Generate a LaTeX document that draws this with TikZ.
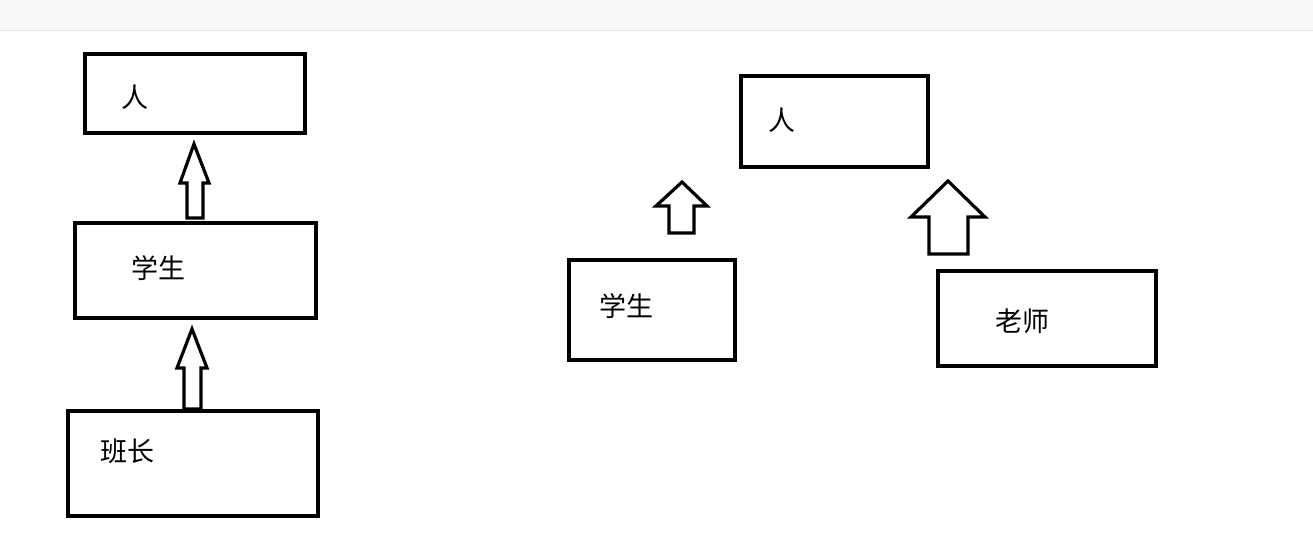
\documentclass[tikz,border=0pt]{standalone}
\usepackage{fontspec}
\newfontfamily\cjk{Noto Sans CJK SC}
\definecolor{barbg}{HTML}{F7F7F7}
\definecolor{barline}{HTML}{E6E6E6}
\begin{document}
\begin{tikzpicture}[x=1pt,y=-1pt,
  box/.style={draw=black,line width=4pt,inner sep=0pt},
  lbl/.style={inner sep=0pt,font=\cjk\fontsize{27}{31}\selectfont,text=black},
  hollow/.style={draw=black,fill=white,line width=3.2pt,line join=miter}]
\useasboundingbox (0,0) rectangle (1313,544);
\fill[white] (0,0) rectangle (1313,544);
\fill[barbg] (0,0) rectangle (1313,30);
\draw[barline,line width=1.5pt] (0,30.5) -- (1313,30.5);

% left column
\node[box,minimum width=220pt,minimum height=79pt] (p1) at (195,93.5) {};
\node[lbl] (p1t) at (135,97) {人};
\node[box,minimum width=241pt,minimum height=95pt] (s1) at (195.5,270.5) {};
\node[lbl] (s1t) at (158,268) {学生};
\node[box,minimum width=250pt,minimum height=105pt] (m1) at (193,463.5) {};
\node[lbl] (m1t) at (127,451) {班长};

\draw[hollow] (194,144) -- (209,183) -- (203,183) -- (203,218) -- (187,218) -- (187,183) -- (180,183) -- cycle;
\draw[hollow] (192,329) -- (207,368) -- (201,368) -- (201,409) -- (184,409) -- (184,368) -- (177,368) -- cycle;

% right group
\node[box,minimum width=187pt,minimum height=91pt] (p2) at (834.5,121.5) {};
\node[lbl] (p2t) at (782,120) {人};
\node[box,minimum width=166pt,minimum height=100pt] (s2) at (652,310) {};
\node[lbl] (s2t) at (626,306) {学生};
\node[box,minimum width=218pt,minimum height=95pt] (t2) at (1047,318.5) {};
\node[lbl] (t2t) at (1022,321) {老师};

\draw[hollow] (682,182) -- (707,206) -- (694,206) -- (694,233) -- (669,233) -- (669,206) -- (656,206) -- cycle;
\draw[hollow] (948,181) -- (985,217) -- (968,217) -- (968,254) -- (929,254) -- (929,217) -- (911,217) -- cycle;
\end{tikzpicture}
\end{document}
